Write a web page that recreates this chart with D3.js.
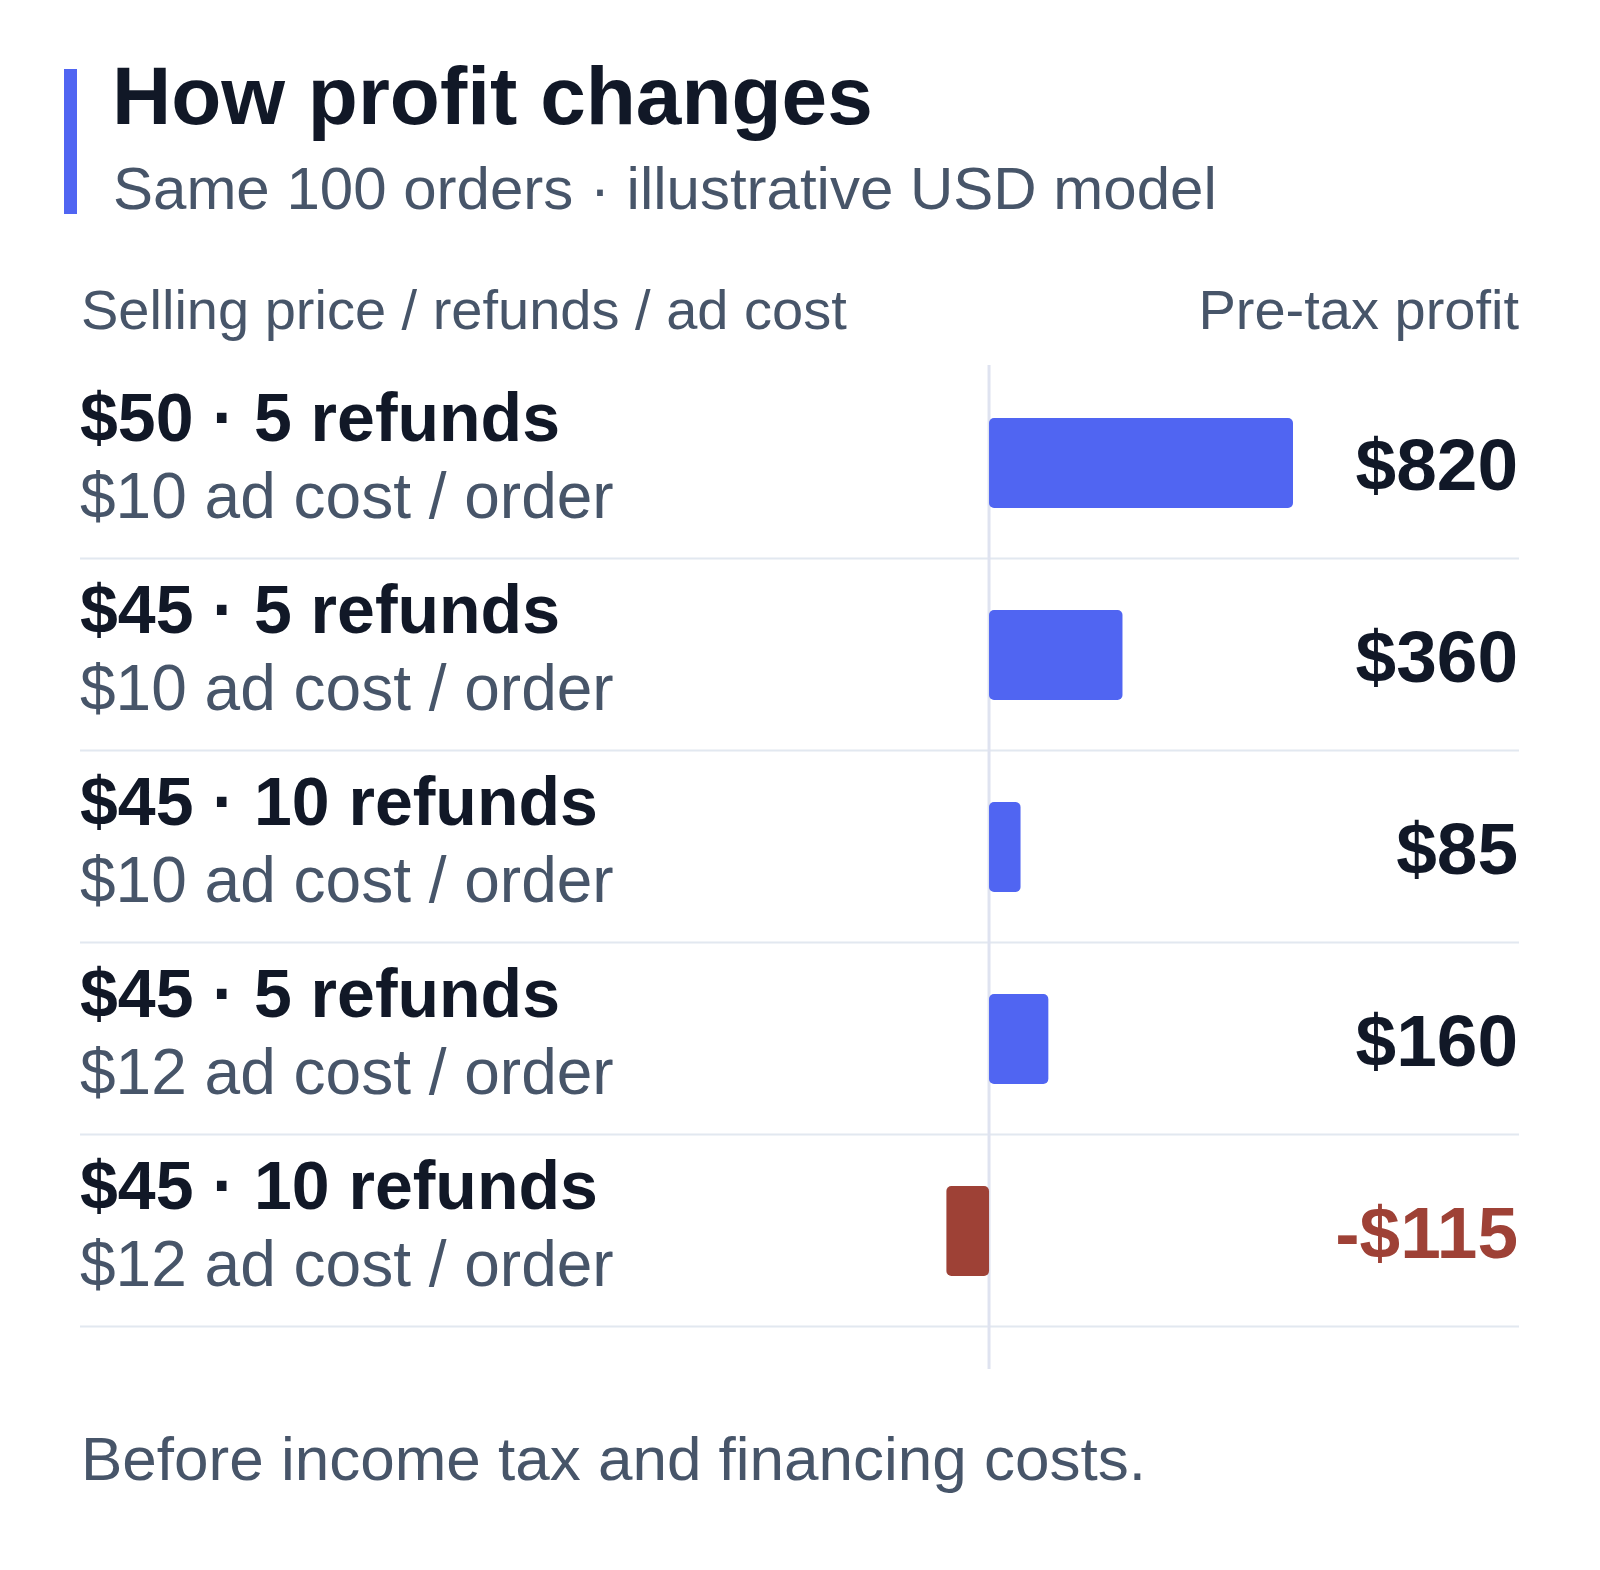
<!DOCTYPE html>
<html>
<head>
<meta charset="utf-8">
<script src="https://cdn.jsdelivr.net/npm/d3@7"></script>
<style>
  html, body { margin: 0; padding: 0; background: #ffffff; }
  svg { display: block; font-family: "Liberation Sans", Arial, Helvetica, sans-serif; }
</style>
</head>
<body>
<svg id="chart" width="1600" height="1570"></svg>
<script>
// ---- data ----
const scenarioLabels = ["$50 · 5 refunds", "$45 · 5 refunds", "$45 · 10 refunds", "$45 · 5 refunds", "$45 · 10 refunds"];
const adCostLabels = ["$10 ad cost / order", "$10 ad cost / order", "$10 ad cost / order", "$12 ad cost / order", "$12 ad cost / order"];
const profits = [820, 360, 85, 160, -115];
const valueLabels = ["$820", "$360", "$85", "$160", "-$115"];

const titleText = "How profit changes";
const subtitleText = "Same 100 orders · illustrative USD model";
const leftHeader = "Selling price / refunds / ad cost";
const rightHeader = "Pre-tax profit";
const footnote = "Before income tax and financing costs.";

// ---- styles ----
const C = {
  ink: "#111827",
  muted: "#475569",
  blue: "#5065F2",
  red: "#9E4136",
  grid: "#E2E8F0",
  axis: "#DFE3F0"
};

const svg = d3.select("#chart");

// header
svg.append("rect").attr("x", 64).attr("y", 69).attr("width", 13).attr("height", 145).attr("fill", C.blue);
svg.append("text").attr("x", 112).attr("y", 124).attr("font-size", 82).attr("font-weight", 700)
  .attr("fill", C.ink).text(titleText);
svg.append("text").attr("x", 113).attr("y", 209).attr("font-size", 60)
  .attr("fill", C.muted).text(subtitleText);

svg.append("text").attr("x", 81).attr("y", 329).attr("font-size", 56)
  .attr("fill", C.muted).text(leftHeader);
svg.append("text").attr("x", 1519).attr("y", 329).attr("font-size", 56).attr("text-anchor", "end")
  .attr("fill", C.muted).text(rightHeader);

// layout
const rowsTop = 367, rowH = 192;
const idx = d3.range(profits.length);
const y = d3.scaleBand().domain(idx).range([rowsTop, rowsTop + rowH * profits.length]).paddingInner(0).paddingOuter(0);
const x = d3.scaleLinear().domain([d3.min(profits.concat([0])), d3.max(profits)]).range([946.4, 1293]);

const barH = 90;

const g = svg.append("g");

// separators
g.selectAll("line.sep").data(idx).join("line")
  .attr("class", "sep")
  .attr("x1", 80).attr("x2", 1519)
  .attr("y1", d => y(d) + rowH - 0.5).attr("y2", d => y(d) + rowH - 0.5)
  .attr("stroke", C.grid).attr("stroke-width", 2);

// zero axis
g.append("line")
  .attr("x1", x(0)).attr("x2", x(0))
  .attr("y1", 365).attr("y2", 1369)
  .attr("stroke", C.axis).attr("stroke-width", 3);

// bars
g.selectAll("rect.bar").data(idx).join("rect")
  .attr("class", "bar")
  .attr("x", d => Math.min(x(0), x(profits[d])))
  .attr("width", d => Math.abs(x(profits[d]) - x(0)))
  .attr("y", d => y(d) + (rowH - barH) / 2)
  .attr("height", barH)
  .attr("rx", 5).attr("ry", 5)
  .attr("fill", d => profits[d] < 0 ? C.red : C.blue);

// row labels
g.selectAll("text.lab").data(idx).join("text")
  .attr("class", "lab")
  .attr("x", 80).attr("y", d => y(d) + 74)
  .attr("font-size", 68).attr("font-weight", 700).attr("fill", C.ink)
  .text(d => scenarioLabels[d]);

g.selectAll("text.sub").data(idx).join("text")
  .attr("class", "sub")
  .attr("x", 80).attr("y", d => y(d) + 151)
  .attr("font-size", 64).attr("fill", C.muted)
  .text(d => adCostLabels[d]);

// value labels
g.selectAll("text.val").data(idx).join("text")
  .attr("class", "val")
  .attr("x", 1518).attr("y", d => y(d) + rowH / 2 + 27)
  .attr("text-anchor", "end")
  .attr("font-size", 73).attr("font-weight", 700)
  .attr("fill", d => profits[d] < 0 ? C.red : C.ink)
  .text(d => valueLabels[d]);

// footnote
svg.append("text").attr("x", 81).attr("y", 1480).attr("font-size", 62)
  .attr("fill", C.muted).text(footnote);
</script>
</body>
</html>
